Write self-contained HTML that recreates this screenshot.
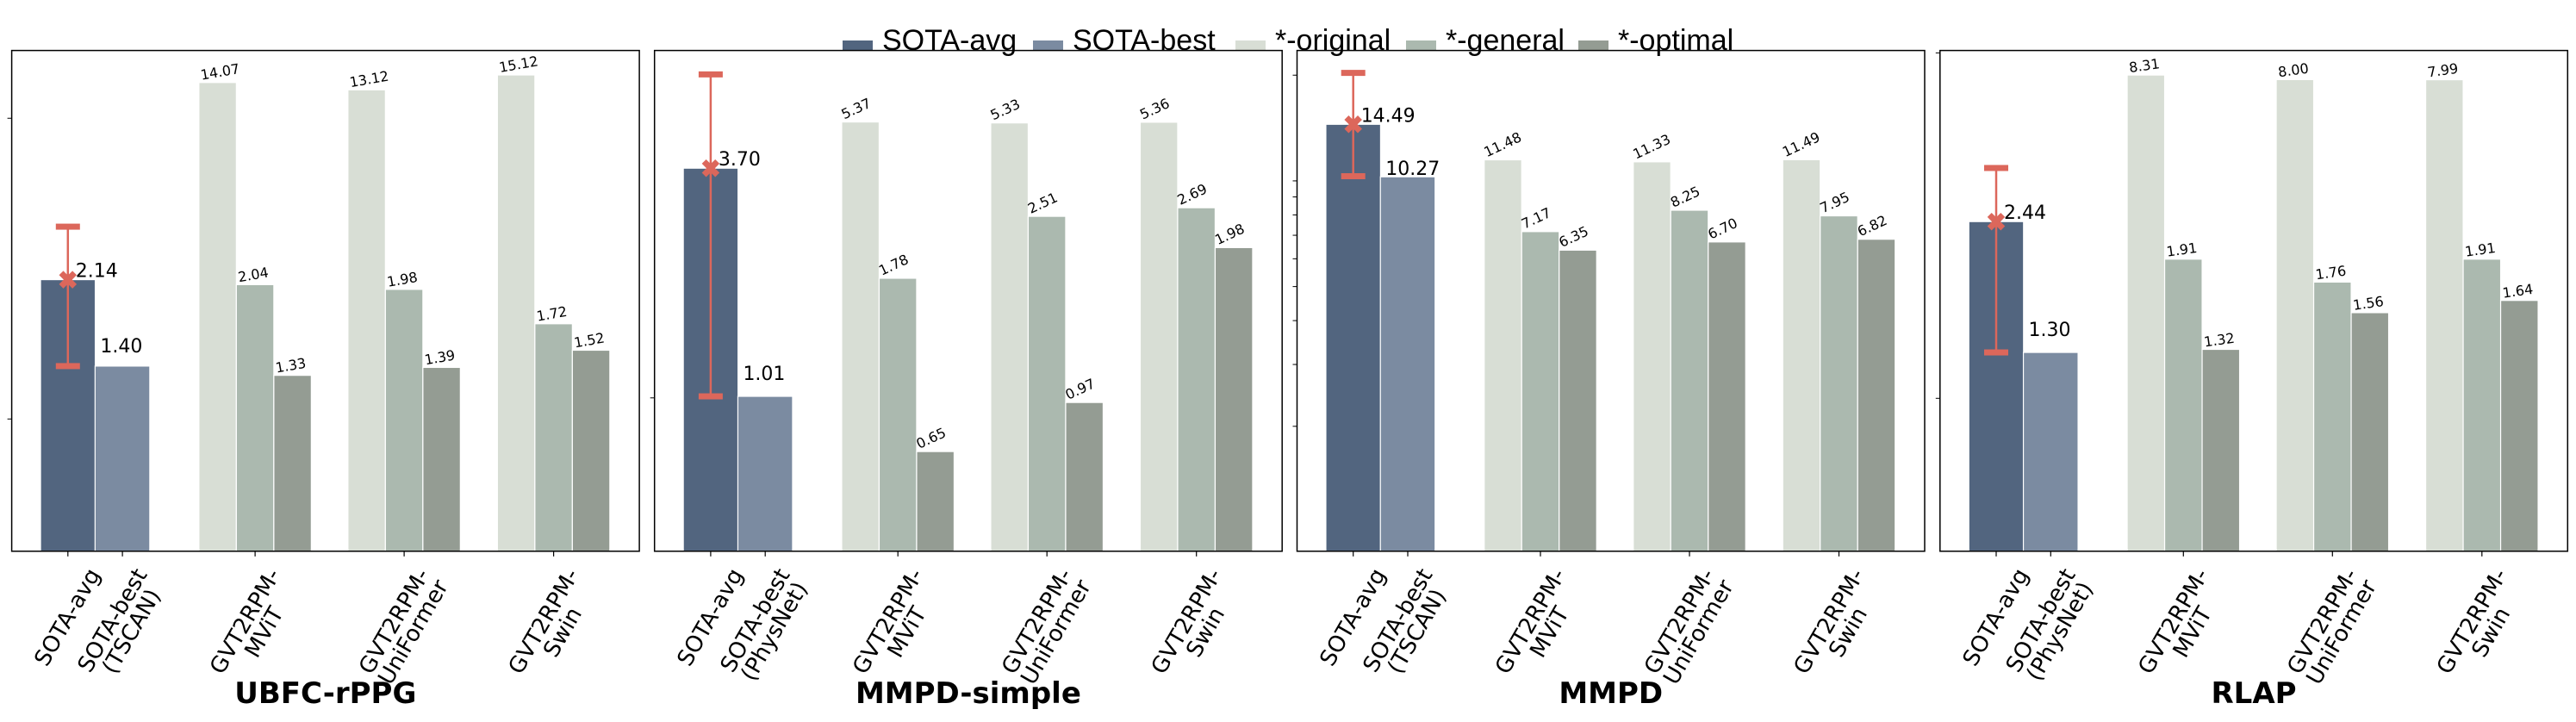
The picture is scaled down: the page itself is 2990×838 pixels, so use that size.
<!DOCTYPE html>
<html><head><meta charset="utf-8">
<style>
html,body{margin:0;padding:0;background:#fff;}
svg{display:block;}
text{font-family:"DejaVu Sans","Liberation Sans",sans-serif;}
text.leg{font-family:"Liberation Sans",sans-serif;}
</style></head>
<body>
<svg id="chart" width="2990" height="838" viewBox="0 0 2990 838" xmlns="http://www.w3.org/2000/svg">
  <g id="legend"></g>
  <g id="panels"></g>
</svg>
<script>
// ---- data ----
const datasets = ['UBFC-rPPG','MMPD-simple','MMPD','RLAP'];
const sotaAvg = [2.14, 3.70, 14.49, 2.44];
const sotaBest = [1.40, 1.01, 10.27, 1.30];
const bestNames = ['TSCAN','PhysNet','TSCAN','PhysNet'];
const errLow = [1.40, 1.01, 10.31, 1.30];
const errHigh = [3.55, 7.88, 20.3, 3.82];
const models = ['MViT','UniFormer','Swin'];
const original = [[14.07,13.12,15.12],[5.37,5.33,5.36],[11.48,11.33,11.49],[8.31,8.00,7.99]];
const general  = [[2.04,1.98,1.72],[1.78,2.51,2.69],[7.17,8.25,7.95],[1.91,1.76,1.91]];
const optimal  = [[1.33,1.39,1.52],[0.65,0.97,1.98],[6.35,6.70,6.82],[1.32,1.56,1.64]];
const yTicks = [[1,10],[1],[2,3,4,5,6,7,8,9,10,20],[1,10]];
const legendLabels = ['SOTA-avg','SOTA-best','*-original','*-general','*-optimal'];

// ---- style / layout ----
const colors = ['#52657f','#7b8ba1','#d8ded5','#abb9af','#949c93'];
const errColor = '#dc675b';
const linSlope = [153.5,178,72.5,177.5];
const logSlope = [121.5,144,177,138.8];
const smallRot = [10,25,25,8];
const bestDy = [16,19,2,19];
const panelLeft = [13.6,759.7,1505.5,2251.8];
const panelW = 728.5, axTop = 58.6, axBottom = 639.8;
const NS = 'http://www.w3.org/2000/svg';

function el(tag, attrs, parent){
  const e = document.createElementNS(NS, tag);
  for (const k in attrs) e.setAttribute(k, attrs[k]);
  parent.appendChild(e);
  return e;
}
function yScale(p, v){
  if (v <= 2) return axBottom - linSlope[p]*v;
  return axBottom - 2*linSlope[p] - logSlope[p]*Math.log(v/2);
}
function xScale(p, rel){ return panelLeft[p] + rel; }

// legend
const legend = document.getElementById('legend');
const legX = [978,1199,1434,1632,1832];
legendLabels.forEach((lab,i)=>{
  const r = el('rect',{x:legX[i],y:47,width:35,height:11,fill:colors[i]},legend);
  
  
  const t = el('text',{x:legX[i]+46,y:58,'font-size':34,fill:'#000','class':'leg'},legend);
  t.textContent = lab;
  
  
});

const panels = document.getElementById('panels');
const avgC = 65.2, bestC = 128.5, bigW = 63.5;
const groupC = [282.5,455.5,629], subW = 43.5;

function addTickLabel(g, p, xc, lines){
  const outer = el('g',{},g);
  
  
  const inner = el('g',{transform:'rotate(-60)'},outer);
  const t = el('text',{'font-size':26,'text-anchor':'middle',fill:'#000'},inner);
  lines.forEach((ln,i)=>{
    const s = el('tspan',{x:0,dy:i===0?0:'0.98em'},t);
    s.textContent = ln;
  });
  let bb;
  try { bb = outer.getBBox(); } catch(e) { bb = {x:-60,y:-110,width:120,height:120}; }
  outer.setAttribute('transform','translate('+(xc-(bb.x+bb.width/2))+','+(655-bb.y)+')');
}

datasets.forEach((name,p)=>{
  const g = el('g',{},panels);
  
  
  const L = panelLeft[p];

  function bar(rel, w, v, color, nm){
    const y = yScale(p,v);
    const r = el('rect',{x:xScale(p,rel)-w/2,y:y,width:w,height:axBottom-y,fill:color,stroke:'#ffffff','stroke-width':1.2},g);
    
    
    return y;
  }
  const yA = bar(avgC,bigW,sotaAvg[p],colors[0],'bar-sota-avg');
  const yB = bar(bestC,bigW,sotaBest[p],colors[1],'bar-sota-best');
  models.forEach((m,j)=>{
    const vals=[original[p][j],general[p][j],optimal[p][j]];
    vals.forEach((v,k)=>{
      const rel = groupC[j] + (k-1)*subW;
      const y = bar(rel,subW,v,colors[2+k],'bar-'+m.toLowerCase()+'-'+['original','general','optimal'][k]);
      const tx = xScale(p,rel-subW/2)+3, ty = y-3;
      const t = el('text',{x:tx,y:ty,'font-size':16,fill:'#000',transform:'rotate('+(-smallRot[p])+' '+tx+' '+ty+')'},g);
      t.textContent = v.toFixed(2);
      
      
    });
  });
  const tb = el('text',{x:xScale(p,bestC-bigW/2)+6,y:yB-bestDy[p],'font-size':22,fill:'#000'},g);
  tb.textContent = sotaBest[p].toFixed(2);
  
  
  const ex = xScale(p,avgC);
  const eh = yScale(p,errHigh[p]), elw = yScale(p,errLow[p]);
  const eg = el('g',{},g);
  
  
  el('line',{x1:ex,x2:ex,y1:eh,y2:elw,stroke:errColor,'stroke-width':2.5},eg);
  el('rect',{x:ex-14,y:eh-3.5,width:28,height:7,fill:errColor},eg);
  el('rect',{x:ex-14,y:elw-3.5,width:28,height:7,fill:errColor},eg);
  const mk = el('g',{transform:'translate('+ex+','+yA+')'},eg);
  el('rect',{x:-11,y:-3.5,width:22,height:7,fill:errColor,transform:'rotate(45)'},mk);
  el('rect',{x:-11,y:-3.5,width:22,height:7,fill:errColor,transform:'rotate(-45)'},mk);
  const ta = el('text',{x:ex+9,y:yA-3,'font-size':22,fill:'#000'},g);
  ta.textContent = sotaAvg[p].toFixed(2);
  
  

  const fr = el('rect',{x:L,y:axTop,width:panelW,height:axBottom-axTop,fill:'none',stroke:'#000','stroke-width':1.5},g);
  
  
  yTicks[p].forEach(v=>{
    const y = yScale(p,v);
    if (y < axTop-1 || y > axBottom) return;
    el('line',{x1:L-5,x2:L,y1:y,y2:y,stroke:'#000','stroke-width':1},g);
  });
  const tickPos = [avgC,bestC].concat(groupC);
  tickPos.forEach(rel=>{
    el('line',{x1:xScale(p,rel),x2:xScale(p,rel),y1:axBottom,y2:axBottom+6,stroke:'#000','stroke-width':1.2},g);
  });
  addTickLabel(g,p,xScale(p,avgC),['SOTA-avg']);
  addTickLabel(g,p,xScale(p,bestC),['SOTA-best','('+bestNames[p]+')']);
  models.forEach((m,j)=>addTickLabel(g,p,xScale(p,groupC[j]),['GVT2RPM-',m]));
  const tt = el('text',{x:L+panelW/2,y:816,'font-size':34,'font-weight':'bold','text-anchor':'middle',fill:'#000'},g);
  tt.textContent = name;
  
  
});
</script>
</body></html>
